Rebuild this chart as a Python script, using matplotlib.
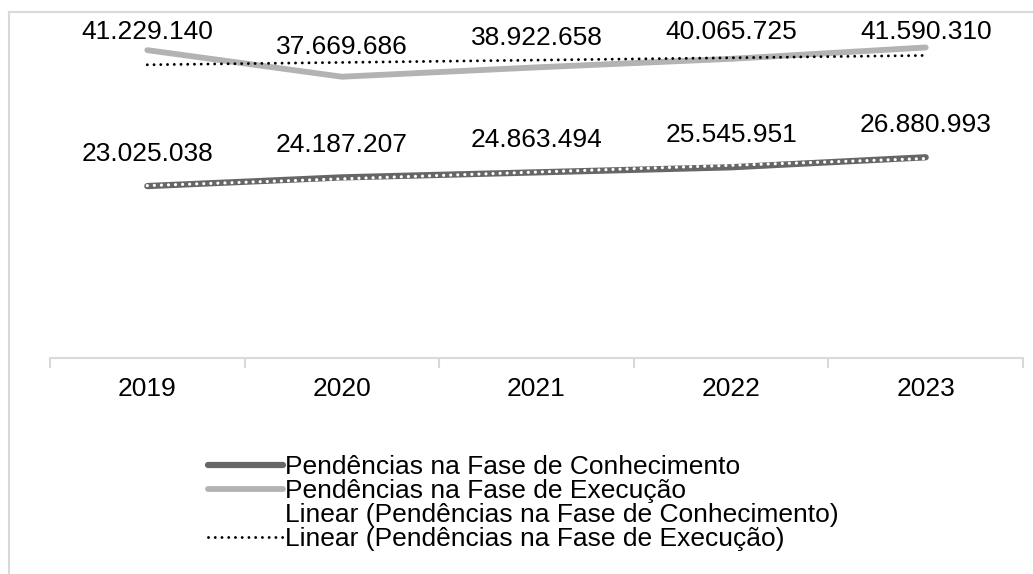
import numpy as np
import matplotlib
matplotlib.use("Agg")
import matplotlib.pyplot as plt
from matplotlib.lines import Line2D

plt.rcParams['font.family'] = ['Liberation Sans', 'DejaVu Sans']

years = ["2019", "2020", "2021", "2022", "2023"]
conhecimento = [23025038, 24187207, 24863494, 25545951, 26880993]
execucao = [41229140, 37669686, 38922658, 40065725, 41590310]
labels_conh = ["23.025.038", "24.187.207", "24.863.494", "25.545.951", "26.880.993"]
labels_exec = ["41.229.140", "37.669.686", "38.922.658", "40.065.725", "41.590.310"]
legend_labels = ["Pendências na Fase de Conhecimento",
                 "Pendências na Fase de Execução",
                 "Linear (Pendências na Fase de Conhecimento)",
                 "Linear (Pendências na Fase de Execução)"]

W, H = 1033, 574
fig = plt.figure(figsize=(W / 100, H / 100), dpi=100)
ax = fig.add_axes([50 / W, 1 - 358 / H, (1023 - 50) / W, (358 - 22) / H])

x = np.arange(len(years))
c_dark = "#666666"
c_light = "#b3b3b3"

l1, = ax.plot(x, conhecimento, color=c_dark, lw=4.5, solid_capstyle='round',
              solid_joinstyle='round', zorder=3)
l2, = ax.plot(x, execucao, color=c_light, lw=4.2, solid_capstyle='round',
              solid_joinstyle='round', zorder=3)

pc = np.polyfit(x, conhecimento, 1)
pe = np.polyfit(x, execucao, 1)
l3, = ax.plot(x, np.polyval(pc, x), color="white", lw=2.3, linestyle=(0, (0.01, 2.2)),
              dash_capstyle='round', zorder=4)
l4, = ax.plot(x, np.polyval(pe, x), color="black", lw=2.1, linestyle=(0, (0.01, 2.3)),
              dash_capstyle='round', zorder=4)

ax.set_ylim(0, 45e6)
ax.set_xlim(-0.5, len(years) - 0.5)

cap = 43.7e6
for xi, v, t in zip(x, execucao, labels_exec):
    ax.text(xi, min(v + 4.0e6, cap), t, ha='center', va='center', fontsize=19, color='black')
for xi, v, t in zip(x, conhecimento, labels_conh):
    ax.text(xi, v + 4.3e6, t, ha='center', va='center', fontsize=19, color='black')

for s in ['top', 'right', 'left']:
    ax.spines[s].set_visible(False)
ax.spines['bottom'].set_color('#d9d9d9')
ax.spines['bottom'].set_linewidth(1.5)
ax.set_yticks([])
ax.set_xticks(np.arange(len(years) + 1) - 0.5, minor=True)
ax.set_xticks(x)
ax.set_xticklabels(years, fontsize=19)
ax.tick_params(axis='x', which='major', length=0, pad=14)
ax.tick_params(axis='x', which='minor', length=7, width=1.5, color='#d9d9d9')

# outer frame
fig.add_artist(Line2D([9 / W, 9 / W], [0, 1 - 12 / H], color='#d9d9d9', lw=1.5,
                      transform=fig.transFigure))
fig.add_artist(Line2D([9 / W, 1], [1 - 12 / H, 1 - 12 / H], color='#d9d9d9', lw=1.5,
                      transform=fig.transFigure))

leg = fig.legend([l1, l2, l3, l4], legend_labels, loc='upper left',
                 bbox_to_anchor=(208 / W, 1 - 455 / H), frameon=False,
                 fontsize=19, handlelength=2.85, handletextpad=0.08,
                 labelspacing=0.0, borderpad=0, borderaxespad=0)

fig.savefig("out.png", dpi=100)
